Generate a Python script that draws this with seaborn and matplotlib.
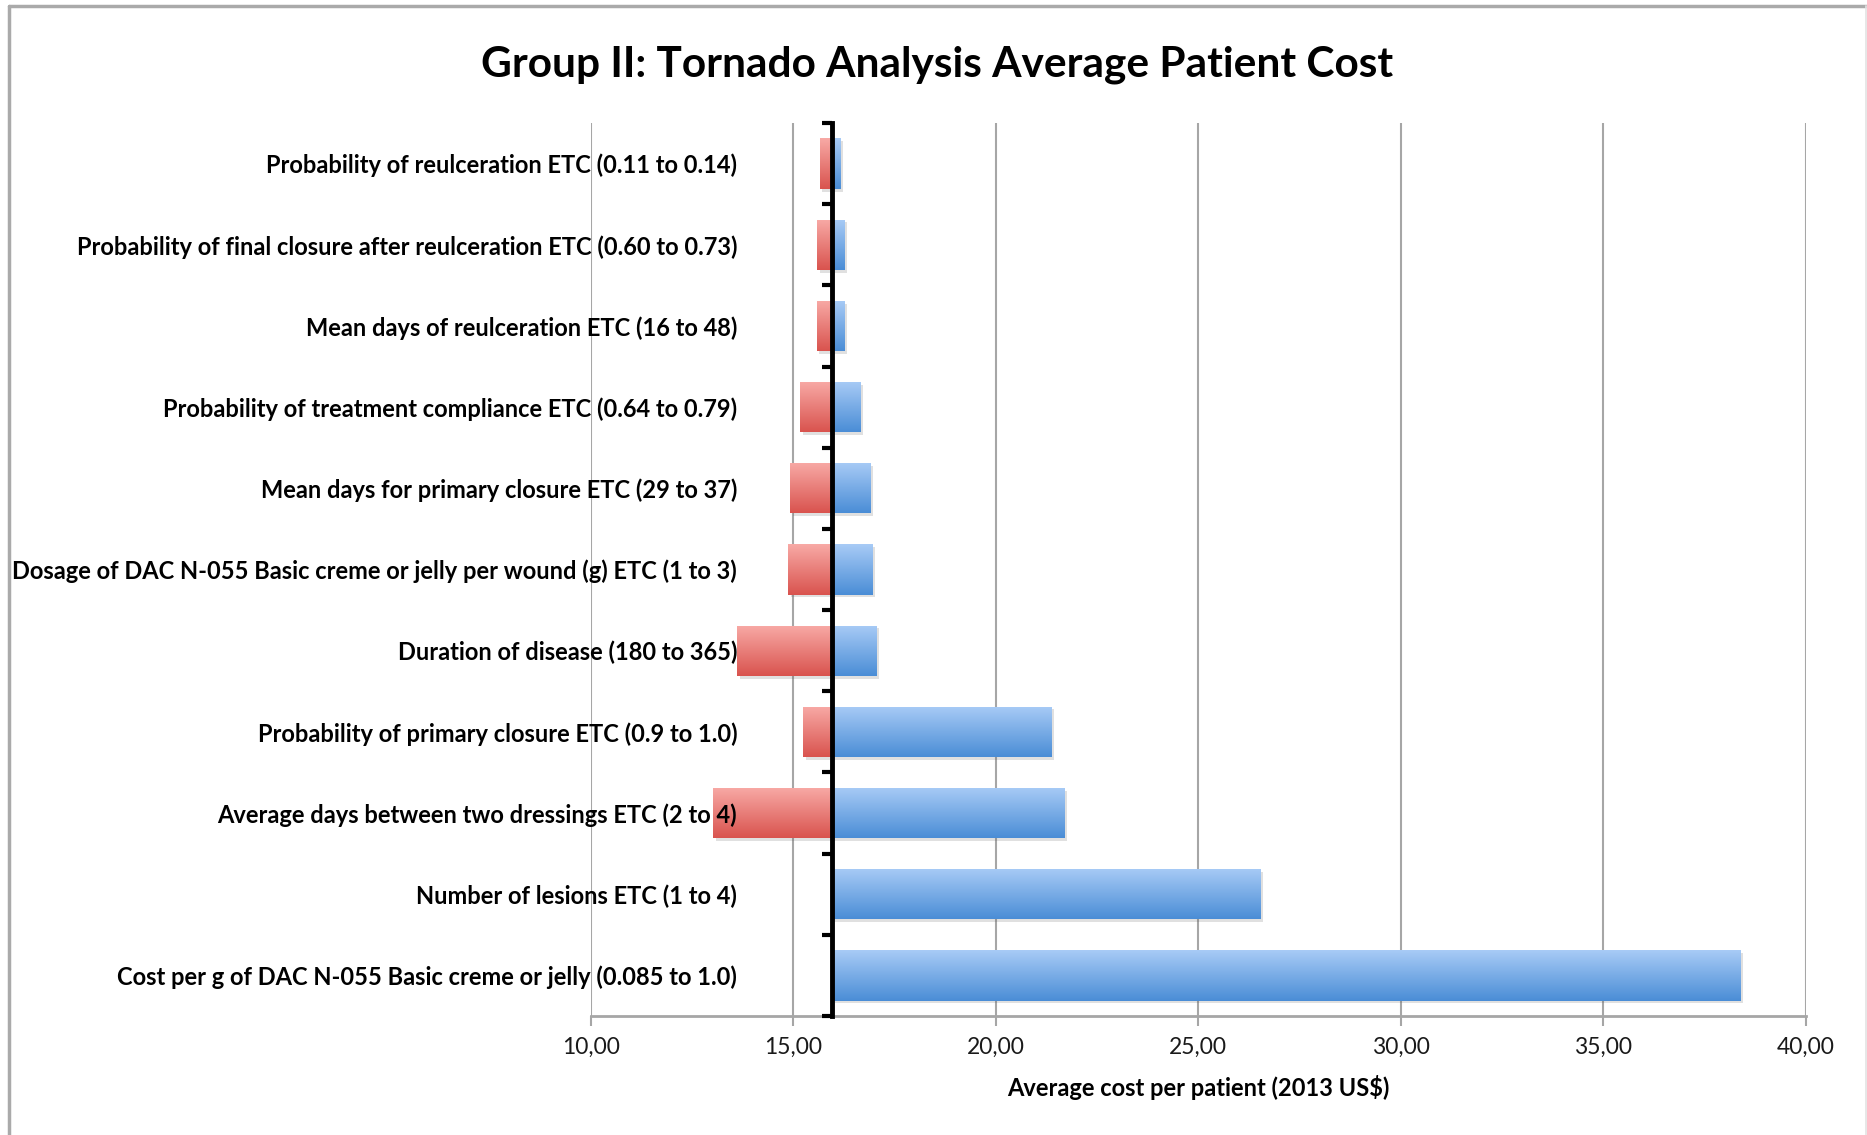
import numpy as np
import pandas as pd
import matplotlib
matplotlib.use("Agg")
import matplotlib.pyplot as plt
import seaborn as sns
from matplotlib.colors import LinearSegmentedColormap
from matplotlib.lines import Line2D
import matplotlib.patheffects as pe

# ---------------- data ----------------
parameters = [
    "Probability of reulceration ETC (0.11 to 0.14)",
    "Probability of final closure after reulceration ETC (0.60 to 0.73)",
    "Mean days of reulceration ETC (16 to 48)",
    "Probability of treatment compliance ETC (0.64 to 0.79)",
    "Mean days for primary closure ETC (29 to 37)",
    "Dosage of DAC N-055 Basic creme or jelly per wound (g) ETC (1 to 3)",
    "Duration of disease (180 to 365)",
    "Probability of primary closure ETC (0.9 to 1.0)",
    "Average days between two dressings ETC (2 to 4)",
    "Number of lesions ETC (1 to 4)",
    "Cost per g of DAC N-055 Basic creme or jelly (0.085 to 1.0)",
]
low_values = [15.65, 15.59, 15.58, 15.18, 14.93, 14.87, 13.62, 15.25, 13.03, 15.95, 15.95]
high_values = [16.17, 16.25, 16.26, 16.66, 16.91, 16.96, 17.06, 21.38, 21.70, 26.53, 38.37]
base_value = 15.95
x_ticks = [10, 15, 20, 25, 30, 35, 40]
x_tick_labels = ["10,00", "15,00", "20,00", "25,00", "30,00", "35,00", "40,00"]
title = "Group II: Tornado Analysis Average Patient Cost"
x_label = "Average cost per patient (2013 US$)"

df = pd.DataFrame({"parameter": parameters, "low": low_values, "high": high_values})

# ---------------- style ----------------
sns.set_theme(style="white")
plt.rcParams['font.family'] = ['Lato', 'DejaVu Sans']

W, H = 1867, 1135
fig = plt.figure(figsize=(W / 100, H / 100), dpi=100)
fig.patch.set_facecolor("white")
ax_left, ax_right, ax_top, ax_bottom = 590.6, 1806.0, 123.0, 1016.0
ax = fig.add_axes([ax_left / W, 1 - ax_bottom / H, (ax_right - ax_left) / W, (ax_bottom - ax_top) / H])

red_cmap = LinearSegmentedColormap.from_list("red", ["#f8aaa6", "#d9534e"])
blue_cmap = LinearSegmentedColormap.from_list("blue", ["#a8cbf6", "#4a8dd6"])
grad = np.linspace(0, 1, 256).reshape(-1, 1)

bar_h = 0.62
ypos = np.arange(len(df))

red_bars = ax.barh(ypos, base_value - df["low"], left=df["low"], height=bar_h,
                   color="#e57a75", linewidth=0, zorder=1)
blue_bars = ax.barh(ypos, df["high"] - base_value, left=base_value, height=bar_h,
                    color="#78acea", linewidth=0, zorder=1)

for bars, cmap in [(red_bars, red_cmap), (blue_bars, blue_cmap)]:
    for patch in bars:
        w = patch.get_width()
        if w <= 0:
            continue
        x0 = patch.get_x()
        y0 = patch.get_y()
        h = patch.get_height()
        patch.set_path_effects([pe.SimplePatchShadow(offset=(2, -2), alpha=0.18, shadow_rgbFace="#555555"),
                                pe.Normal()])
        im = ax.imshow(grad, extent=(x0, x0 + w, y0 + h, y0), origin="upper",
                       aspect="auto", cmap=cmap, zorder=1.5, interpolation="bilinear")
        im.set_clip_path(patch)

ax.set_xlim(10, 40)
ax.set_ylim(len(df) - 0.5, -0.5)

# grid & spines
ax.xaxis.grid(True, color="#a6a6a6", linewidth=1.5)
ax.yaxis.grid(False)
ax.set_axisbelow(True)
ax.xaxis.set_zorder(0.5)
ax.yaxis.set_zorder(4)
for s in ["top", "right"]:
    ax.spines[s].set_visible(False)
ax.spines["bottom"].set_color("#a6a6a6")
ax.spines["bottom"].set_linewidth(2)
ax.spines["left"].set_position(("data", base_value))
ax.spines["left"].set_color("black")
ax.spines["left"].set_linewidth(3.5)
ax.spines["left"].set_zorder(3)

# x ticks
ax.set_xticks(x_ticks)
ax.set_xticklabels(x_tick_labels)
ax.tick_params(axis="x", length=7, width=1.5, color="#a6a6a6", pad=8, labelsize=16.5,
               labelcolor="#1a1a1a", direction="out", bottom=True)

# y ticks: boundaries as major ticks, labels at centres as minor
ax.set_yticks(np.arange(-0.5, len(df), 1.0))
ax.set_yticklabels([])
ax.set_yticks(ypos, minor=True)
ax.set_yticklabels(df["parameter"], minor=True)
ax.tick_params(axis="y", which="major", length=7, width=3, color="black", direction="out", left=True)
ax.tick_params(axis="y", which="minor", length=0, pad=68, labelsize=17, left=True)
for lbl in ax.get_yticklabels(minor=True):
    lbl.set_fontweight("bold")
    lbl.set_color("black")

# title and axis label
fig.text(0.502, 1 - 65 / H, title, ha="center", va="center", fontsize=30.5, fontweight="bold", color="black")
fig.text((ax_left + ax_right) / 2 / W, 1 - 1088 / H, x_label, ha="center", va="center",
         fontsize=17, fontweight="bold", color="black")

# outer frame
fig.add_artist(Line2D([9 / W, 9 / W], [0, 1 - 6 / H], transform=fig.transFigure, color="#aaaaaa", linewidth=2.5))
fig.add_artist(Line2D([9 / W, 1], [1 - 6 / H, 1 - 6 / H], transform=fig.transFigure, color="#aaaaaa", linewidth=2.5))
fig.add_artist(Line2D([1865.5 / W, 1865.5 / W], [0, 1 - 6 / H], transform=fig.transFigure, color="#e3e3e3", linewidth=1.2))

fig.savefig("out.png", dpi=100)
